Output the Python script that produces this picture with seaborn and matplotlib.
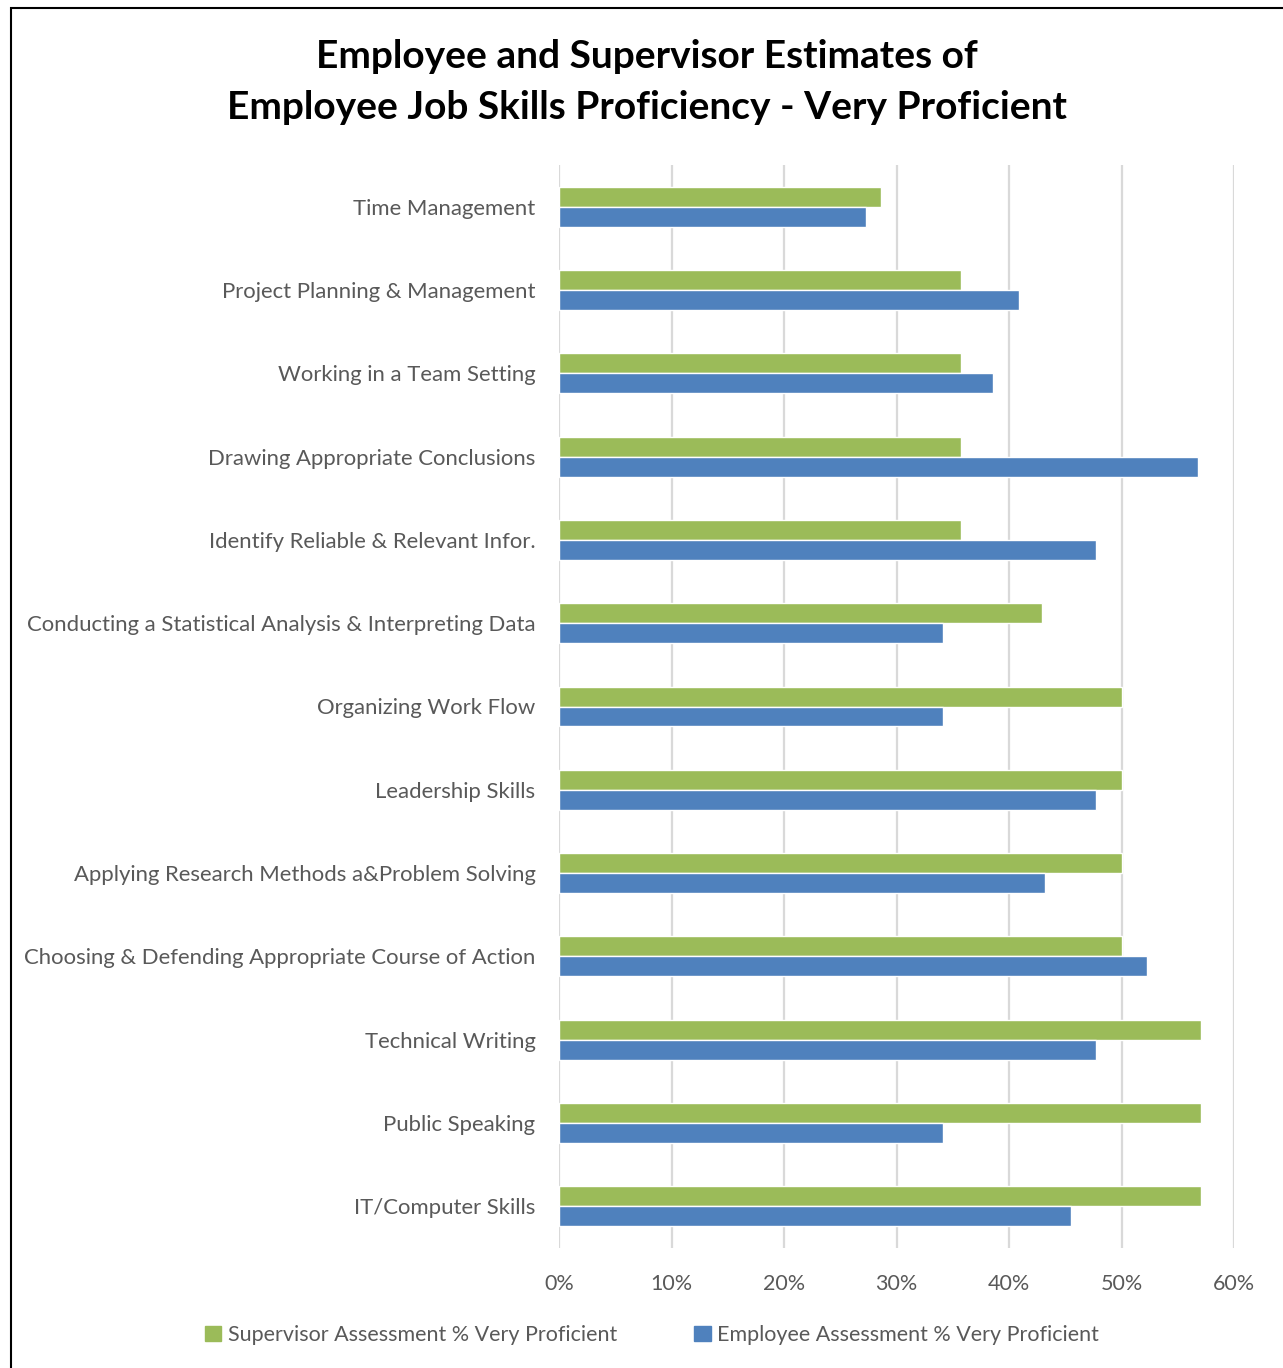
import matplotlib
matplotlib.use("Agg")
import matplotlib.pyplot as plt
import matplotlib.patches as mpatches
from matplotlib.ticker import PercentFormatter
import seaborn as sns
import pandas as pd

skills = [
    "Time Management",
    "Project Planning & Management",
    "Working in a Team Setting",
    "Drawing Appropriate Conclusions",
    "Identify Reliable & Relevant Infor.",
    "Conducting a Statistical Analysis & Interpreting Data",
    "Organizing Work Flow",
    "Leadership Skills",
    "Applying Research Methods a&Problem Solving",
    "Choosing & Defending Appropriate Course of Action",
    "Technical Writing",
    "Public Speaking",
    "IT/Computer Skills",
]
supervisor = [28.6, 35.7, 35.7, 35.7, 35.7, 42.9, 50.0, 50.0, 50.0, 50.0, 57.1, 57.1, 57.1]
employee = [27.3, 40.9, 38.6, 56.8, 47.7, 34.1, 34.1, 47.7, 43.2, 52.3, 47.7, 34.1, 45.5]
series_names = ["Supervisor Assessment % Very Proficient",
                "Employee Assessment % Very Proficient"]
series_colors = ["#9BBB59", "#4F81BD"]

df = pd.DataFrame({
    "skill": skills * 2,
    "value": [v / 100 for v in supervisor] + [v / 100 for v in employee],
    "series": [series_names[0]] * len(skills) + [series_names[1]] * len(skills),
})

sns.set_theme(style="white")
plt.rcParams["font.family"] = ["Lato", "DejaVu Sans"]

fig = plt.figure(figsize=(12.83, 13.68), dpi=100)
ax = fig.add_axes([559 / 1283, 1 - 1248 / 1368, (1234 - 559) / 1283, (1248 - 165) / 1368])

sns.barplot(data=df, x="value", y="skill", hue="series", order=skills,
            hue_order=series_names, palette=series_colors, width=0.48,
            orient="h", ax=ax, legend=False, saturation=1)

ax.set_xlim(0, 0.6)
ax.set_xticks([0, 0.1, 0.2, 0.3, 0.4, 0.5, 0.6])
ax.xaxis.set_major_formatter(PercentFormatter(1.0, decimals=0))
ax.grid(axis="x", color="#D9D9D9", linewidth=1.6)
ax.set_axisbelow(True)
for s in ax.spines.values():
    s.set_visible(False)
ax.set_xlabel("")
ax.set_ylabel("")
ax.tick_params(axis="x", colors="#595959", labelsize=15.5, length=0, pad=19)
ax.tick_params(axis="y", colors="#595959", labelsize=15.9, length=0, pad=17)
for t in ax.get_xticklabels() + ax.get_yticklabels():
    t.set_color("#595959")

fig.text(647 / 1283, 1 - 82 / 1368,
         "Employee and Supervisor Estimates of\nEmployee Job Skills Proficiency - Very Proficient",
         ha="center", va="center", fontsize=28, fontweight="bold",
         color="black", linespacing=1.55)

handles = [mpatches.Patch(color=c, label=n) for c, n in zip(series_colors, series_names)]
leg = fig.legend(handles=handles, loc="center", bbox_to_anchor=(652 / 1283, 1 - 1335 / 1368),
                 ncol=2, frameon=False, fontsize=15.5, handlelength=0.75, handleheight=0.75,
                 handletextpad=0.3, columnspacing=3.6)
for t in leg.get_texts():
    t.set_color("#595959")

# outer chart frame
fig.patches.append(mpatches.Rectangle((11 / 1283, -0.01), 1.05, 1 - 8 / 1368 + 0.01,
                                      transform=fig.transFigure, fill=False,
                                      edgecolor="black", linewidth=1.5))

fig.savefig("out.png", dpi=100, facecolor="white")
